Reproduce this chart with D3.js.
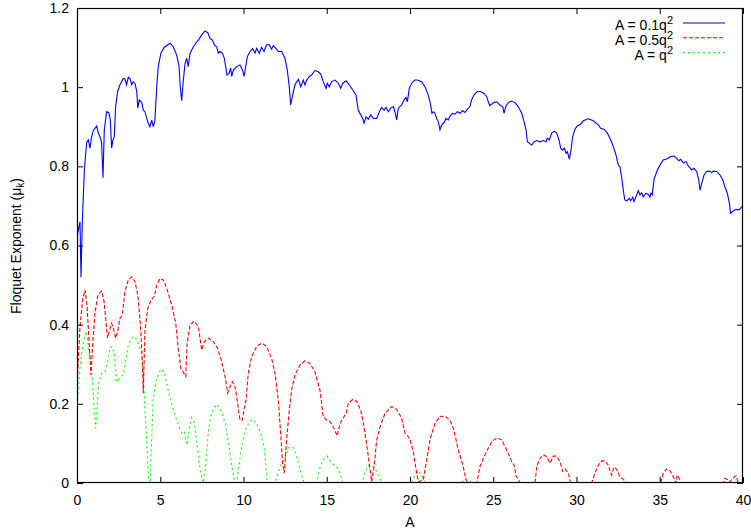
<!DOCTYPE html>
<html>
<head>
<meta charset="utf-8">
<script src="https://cdn.jsdelivr.net/npm/d3@7/dist/d3.min.js"></script>
<style>
html,body{margin:0;padding:0;background:#fff;}
svg text{font-family:"Liberation Sans",Arial,Helvetica,sans-serif;font-size:14px;fill:#000;}
</style>
</head>
<body>
<svg id="chart" width="751" height="531"></svg>
<script>
// ---- data ----
const xTicks = [0, 5, 10, 15, 20, 25, 30, 35, 40];
const yTicks = [0, 0.2, 0.4, 0.6, 0.8, 1.0, 1.2];
const yTickLabels = ["0", "0.2", "0.4", "0.6", "0.8", "1", "1.2"];
const seriesNames = ["A = 0.1q", "A = 0.5q", "A = q"];

// A = 0.1q^2  (blue)
const blue = [
[0.00,0.60],[0.04,0.63],[0.18,0.66],[0.24,0.52],[0.32,0.66],[0.44,0.79],[0.58,0.86],[0.68,0.867],[0.78,0.846],[0.88,0.875],
[0.98,0.89],[1.18,0.902],[1.28,0.884],[1.38,0.875],[1.48,0.859],[1.56,0.771],[1.64,0.892],[1.78,0.938],[1.92,0.935],[2.00,0.917],
[2.08,0.846],[2.16,0.867],[2.24,0.875],[2.32,0.951],[2.44,0.989],[2.58,1.006],[2.78,1.022],[2.88,1.020],[2.98,1.006],[3.08,1.025],
[3.18,1.022],[3.29,1.006],[3.38,1.014],[3.48,1.010],[3.59,0.989],[3.65,0.947],[3.74,0.968],[3.89,0.961],[3.98,0.942],[4.08,0.938],
[4.19,0.921],[4.28,0.909],[4.38,0.900],[4.49,0.917],[4.58,0.900],[4.68,0.917],[4.79,1.001],[4.88,1.052],[5.04,1.086],[5.24,1.101],
[5.59,1.111],[5.78,1.102],[5.99,1.081],[6.13,1.052],[6.20,1.001],[6.29,0.966],[6.37,1.010],[6.49,1.060],[6.59,1.073],[6.68,1.052],
[6.79,1.086],[6.99,1.102],[7.13,1.111],[7.29,1.119],[7.49,1.132],[7.69,1.142],[7.85,1.138],[7.99,1.123],[8.13,1.119],[8.25,1.107],
[8.39,1.102],[8.49,1.086],[8.59,1.090],[8.73,1.086],[8.85,1.073],[8.93,1.052],[9.01,1.031],[9.13,1.035],[9.23,1.048],[9.29,1.027],
[9.39,1.043],[9.59,1.052],[9.79,1.056],[9.95,1.043],[10.03,1.027],[10.15,1.056],[10.23,1.077],[10.39,1.090],[10.55,1.098],[10.69,1.086],
[10.79,1.098],[10.95,1.086],[11.09,1.101],[11.23,1.090],[11.39,1.107],[11.55,1.107],[11.69,1.096],[11.79,1.105],[11.95,1.098],[12.09,1.090],
[12.29,1.090],[12.49,1.073],[12.63,1.043],[12.75,1.001],[12.83,0.955],[12.95,0.980],[13.09,1.006],[13.29,1.020],[13.44,1.001],[13.59,1.018],
[13.69,1.006],[13.80,1.018],[13.95,1.027],[14.10,1.031],[14.29,1.042],[14.49,1.039],[14.64,1.033],[14.79,1.014],[14.96,0.997],[15.03,1.010],
[15.15,1.001],[15.30,1.014],[15.50,1.018],[15.69,1.010],[15.84,0.997],[15.96,1.010],[16.16,1.016],[16.35,1.006],[16.56,0.993],[16.76,0.980],
[16.89,0.942],[17.04,0.930],[17.16,0.921],[17.24,0.909],[17.36,0.925],[17.50,0.919],[17.64,0.930],[17.80,0.921],[18.00,0.921],[18.16,0.938],
[18.30,0.949],[18.44,0.942],[18.56,0.949],[18.70,0.938],[18.84,0.947],[19.00,0.951],[19.10,0.938],[19.20,0.917],[19.30,0.947],[19.50,0.955],
[19.64,0.968],[19.76,0.974],[19.84,0.963],[19.96,0.997],[20.10,1.010],[20.30,1.018],[20.44,1.018],[20.70,1.014],[20.90,1.001],[21.10,0.980],
[21.24,0.955],[21.32,0.934],[21.40,0.938],[21.50,0.934],[21.60,0.921],[21.70,0.913],[21.80,0.892],[21.90,0.905],[22.04,0.910],[22.16,0.921],
[22.30,0.917],[22.40,0.927],[22.56,0.934],[22.70,0.932],[22.84,0.938],[23.00,0.934],[23.16,0.941],[23.30,0.936],[23.44,0.944],[23.60,0.951],
[23.70,0.968],[23.84,0.980],[24.04,0.989],[24.25,0.989],[24.44,0.984],[24.61,0.976],[24.70,0.963],[24.80,0.953],[24.90,0.957],[25.04,0.961],
[25.21,0.963],[25.30,0.959],[25.45,0.953],[25.57,0.951],[25.65,0.934],[25.75,0.951],[25.90,0.961],[26.11,0.965],[26.31,0.961],[26.50,0.951],
[26.71,0.934],[26.85,0.913],[26.97,0.892],[27.05,0.862],[27.17,0.858],[27.31,0.854],[27.45,0.862],[27.61,0.865],[27.81,0.862],[28.01,0.865],
[28.17,0.862],[28.25,0.871],[28.37,0.867],[28.51,0.884],[28.67,0.889],[28.81,0.884],[28.95,0.867],[29.05,0.846],[29.17,0.841],[29.27,0.846],
[29.37,0.833],[29.45,0.837],[29.57,0.818],[29.67,0.841],[29.77,0.875],[29.91,0.894],[30.05,0.902],[30.21,0.905],[30.41,0.915],[30.71,0.920],
[31.01,0.915],[31.31,0.905],[31.45,0.896],[31.65,0.894],[31.85,0.884],[32.05,0.867],[32.21,0.850],[32.37,0.829],[32.51,0.803],[32.61,0.799],
[32.72,0.770],[32.81,0.740],[32.90,0.715],[33.02,0.713],[33.17,0.719],[33.26,0.713],[33.38,0.722],[33.45,0.711],[33.57,0.723],[33.71,0.739],
[33.81,0.728],[33.91,0.733],[34.01,0.723],[34.17,0.732],[34.31,0.729],[34.41,0.722],[34.47,0.732],[34.55,0.728],[34.65,0.766],[34.82,0.787],
[35.01,0.803],[35.21,0.816],[35.45,0.819],[35.66,0.825],[35.86,0.826],[36.02,0.820],[36.14,0.814],[36.26,0.818],[36.41,0.809],[36.58,0.812],
[36.71,0.801],[36.92,0.791],[37.05,0.795],[37.22,0.787],[37.34,0.766],[37.42,0.740],[37.52,0.757],[37.66,0.778],[37.82,0.787],[37.98,0.788],
[38.12,0.784],[38.22,0.788],[38.42,0.787],[38.62,0.778],[38.78,0.766],[38.92,0.747],[39.06,0.732],[39.18,0.707],[39.26,0.681],[39.38,0.686],
[39.52,0.690],[39.66,0.691],[39.78,0.690],[39.91,0.697],[40.00,0.697]
];

// A = 0.5q^2  (red)
const red = [
[0.00,0.23],[0.06,0.30],[0.18,0.395],[0.33,0.46],[0.48,0.488],[0.60,0.45],[0.72,0.36],[0.84,0.273],[0.96,0.36],[1.08,0.43],
[1.26,0.475],[1.48,0.485],[1.62,0.46],[1.78,0.391],[1.84,0.366],[1.94,0.383],[2.08,0.404],[2.18,0.391],[2.32,0.366],[2.44,0.383],
[2.58,0.416],[2.72,0.425],[2.88,0.484],[3.08,0.513],[3.29,0.521],[3.48,0.509],[3.65,0.475],[3.78,0.416],[3.89,0.340],[3.95,0.273],
[3.98,0.227],[4.08,0.383],[4.25,0.441],[4.44,0.462],[4.64,0.471],[4.79,0.500],[4.98,0.517],[5.18,0.513],[5.39,0.492],[5.69,0.450],
[5.93,0.404],[6.08,0.340],[6.25,0.286],[6.38,0.281],[6.53,0.269],[6.61,0.349],[6.79,0.399],[7.04,0.409],[7.29,0.395],[7.49,0.336],
[7.65,0.357],[7.89,0.366],[8.19,0.357],[8.45,0.340],[8.69,0.307],[8.89,0.269],[9.05,0.227],[9.19,0.243],[9.33,0.256],[9.49,0.243],
[9.65,0.201],[9.79,0.159],[9.93,0.159],[10.05,0.189],[10.15,0.210],[10.29,0.278],[10.49,0.319],[10.79,0.345],[11.09,0.353],[11.39,0.345],
[11.69,0.315],[11.89,0.278],[12.09,0.210],[12.23,0.126],[12.35,0.050],[12.45,0.025],[12.59,0.109],[12.75,0.184],[12.89,0.235],[13.09,0.273],
[13.39,0.298],[13.69,0.309],[13.99,0.302],[14.29,0.281],[14.59,0.235],[14.79,0.168],[15.00,0.159],[15.19,0.155],[15.39,0.142],[15.63,0.119],
[15.80,0.151],[15.99,0.164],[16.16,0.176],[16.29,0.201],[16.56,0.211],[16.80,0.206],[17.04,0.184],[17.24,0.142],[17.50,0.067],[17.70,0.003],
[17.84,0.041],[18.00,0.109],[18.20,0.142],[18.50,0.176],[18.90,0.193],[19.20,0.186],[19.50,0.164],[19.70,0.126],[19.84,0.121],[20.00,0.109],
[20.20,0.079],[20.40,0.025],[20.50,0.003],[20.80,0.008],[21.00,0.058],[21.20,0.109],[21.50,0.151],[21.80,0.168],[22.10,0.169],[22.40,0.159],
[22.64,0.134],[22.90,0.083],[23.20,0.041],[23.36,0.008],[23.50,0.0],[24.01,0.0],[24.20,0.041],[24.40,0.062],[24.64,0.083],[24.91,0.104],
[25.21,0.114],[25.51,0.109],[25.81,0.083],[25.90,0.075],[26.11,0.054],[26.25,0.045],[26.37,0.018],[26.50,0.008],[26.65,0.0],[27.51,0.0],
[27.61,0.041],[27.77,0.060],[28.01,0.071],[28.21,0.067],[28.41,0.050],[28.61,0.068],[28.81,0.068],[29.01,0.054],[29.17,0.029],[29.31,0.035],
[29.51,0.025],[29.65,0.0],[30.91,0.0],[31.11,0.025],[31.31,0.045],[31.51,0.056],[31.71,0.056],[31.91,0.045],[32.11,0.020],[32.25,0.040],
[32.41,0.035],[32.61,0.016],[32.81,0.009],[33.01,0.0],[35.06,0.0],[35.21,0.025],[35.41,0.035],[35.62,0.031],[35.86,0.012],[35.98,0.0],
[36.05,0.020],[36.17,0.012],[36.26,0.0],[38.82,0.0],[38.92,0.012],[39.06,0.009],[39.22,0.003],[39.38,0.012],[39.58,0.018],[39.72,0.0],
[40.00,0.0]
];

// A = q^2  (green)
const green = [
[0.00,0.20],[0.18,0.290],[0.32,0.340],[0.48,0.374],[0.58,0.383],[0.72,0.332],[0.84,0.307],[0.92,0.256],[1.02,0.197],[1.12,0.138],
[1.20,0.189],[1.32,0.256],[1.48,0.277],[1.68,0.281],[1.84,0.307],[1.98,0.340],[2.12,0.345],[2.24,0.324],[2.38,0.256],[2.58,0.264],
[2.78,0.273],[2.92,0.307],[3.08,0.349],[3.29,0.366],[3.48,0.370],[3.68,0.353],[3.89,0.332],[3.98,0.273],[4.08,0.189],[4.19,0.104],
[4.28,0.029],[4.32,0.0],[4.40,0.0],[4.47,0.096],[4.58,0.214],[4.79,0.264],[5.04,0.288],[5.24,0.281],[5.45,0.239],[5.69,0.197],
[5.89,0.172],[6.08,0.147],[6.29,0.126],[6.44,0.130],[6.62,0.096],[6.74,0.138],[6.89,0.165],[7.04,0.155],[7.19,0.104],[7.33,0.054],
[7.49,0.012],[7.59,0.0],[7.73,0.045],[7.89,0.130],[8.09,0.180],[8.39,0.199],[8.69,0.180],[8.93,0.147],[9.13,0.096],[9.29,0.045],
[9.45,0.008],[9.59,0.0],[9.73,0.045],[9.89,0.090],[9.99,0.109],[10.19,0.142],[10.49,0.161],[10.79,0.152],[11.03,0.126],[11.23,0.092],
[11.35,0.041],[11.43,0.0],[11.89,0.0],[12.09,0.025],[12.29,0.050],[12.49,0.062],[12.69,0.088],[12.95,0.092],[13.15,0.075],[13.35,0.041],
[13.50,0.020],[13.63,0.0],[14.40,0.0],[14.55,0.033],[14.76,0.058],[15.03,0.068],[15.30,0.050],[15.60,0.041],[15.80,0.025],[15.96,0.0],
[17.10,0.0],[17.30,0.025],[17.50,0.045],[17.70,0.045],[17.90,0.037],[18.10,0.020],[18.30,0.0],[20.10,0.0],[20.30,0.020],[20.50,0.031],
[20.70,0.020],[20.90,0.0],[23.10,0.0],[23.30,0.010],[23.50,0.010],[23.70,0.0],[40.00,0.0]
];

// ---- layout ----
const W = 751, H = 531;
const margin = {left: 77, top: 8, right: 8, bottom: 48};
const iw = W - margin.left - margin.right;
const ih = H - margin.top - margin.bottom;
const FONT = "Liberation Sans, Arial, sans-serif";

const svg = d3.select("#chart");
const x = d3.scaleLinear().domain([0, 40]).range([margin.left, margin.left + iw]);
const y = d3.scaleLinear().domain([0, 1.2]).range([margin.top + ih, margin.top]);

svg.append("defs").append("clipPath").attr("id", "clip")
  .append("rect").attr("x", margin.left).attr("y", margin.top).attr("width", iw).attr("height", ih);

const line = d3.line().x(d => x(d[0])).y(d => y(d[1]));

const styles = [
  {data: blue, color: "#0000ff", dash: null},
  {data: red, color: "#ff0000", dash: "4,2"},
  {data: green, color: "#00ff00", dash: "2,3"}
];

const plot = svg.append("g").attr("clip-path", "url(#clip)");
[2, 1, 0].forEach(i => {
  plot.append("path").datum(styles[i].data)
    .attr("d", line)
    .attr("fill", "none")
    .attr("stroke", styles[i].color)
    .attr("stroke-width", 1.1)
    .attr("stroke-dasharray", styles[i].dash);
});

// axes (ticks inward, mirrored)
const tickLen = 6;
const axB = svg.append("g").attr("transform", `translate(0,${margin.top + ih})`)
  .call(d3.axisBottom(x).tickValues(xTicks).tickSize(-tickLen).tickPadding(12).tickFormat(d3.format("d")));
const axT = svg.append("g").attr("transform", `translate(0,${margin.top})`)
  .call(d3.axisTop(x).tickValues(xTicks).tickSize(-tickLen).tickFormat(""));
const axL = svg.append("g").attr("transform", `translate(${margin.left},0)`)
  .call(d3.axisLeft(y).tickValues(yTicks).tickSize(-tickLen).tickPadding(8).tickFormat((d, i) => yTickLabels[i]));
const axR = svg.append("g").attr("transform", `translate(${margin.left + iw},0)`)
  .call(d3.axisRight(y).tickValues(yTicks).tickSize(-tickLen).tickFormat(""));

[axB, axT, axL, axR].forEach(g => {
  g.select(".domain").remove();
  g.selectAll(".tick line").attr("stroke", "#000").attr("stroke-width", 1);
  g.selectAll(".tick text").attr("font-size", 14).attr("font-family", FONT).attr("fill", "#000");
});

// border
svg.append("rect")
  .attr("x", margin.left + 0.5).attr("y", margin.top + 0.5)
  .attr("width", iw - 1).attr("height", ih - 1)
  .attr("fill", "none").attr("stroke", "#000").attr("stroke-width", 1.2);

// axis titles
svg.append("text").attr("x", x(20)).attr("y", 527).attr("text-anchor", "middle").text("A");

const yl = svg.append("text").attr("transform", "translate(21,246) rotate(-90)").attr("text-anchor", "middle");
yl.append("tspan").text("Floquet Exponent (\u03bc");
yl.append("tspan").attr("dy", 3).attr("font-size", 10).text("k");
yl.append("tspan").attr("dy", -3).text(")");

// legend
const legX = 673, lineX1 = 683, lineX2 = 725;
const rowY = [23, 37.8, 52.6];
styles.forEach((s, i) => {
  const t = svg.append("text").attr("x", legX).attr("y", rowY[i] + 7).attr("text-anchor", "end");
  t.append("tspan").text(seriesNames[i]);
  t.append("tspan").attr("dy", -6).attr("font-size", 11).text("2");
  svg.append("line").attr("x1", lineX1).attr("x2", lineX2).attr("y1", rowY[i]).attr("y2", rowY[i])
    .attr("stroke", s.color).attr("stroke-width", 1.1).attr("stroke-dasharray", s.dash);
});
</script>
</body>
</html>
